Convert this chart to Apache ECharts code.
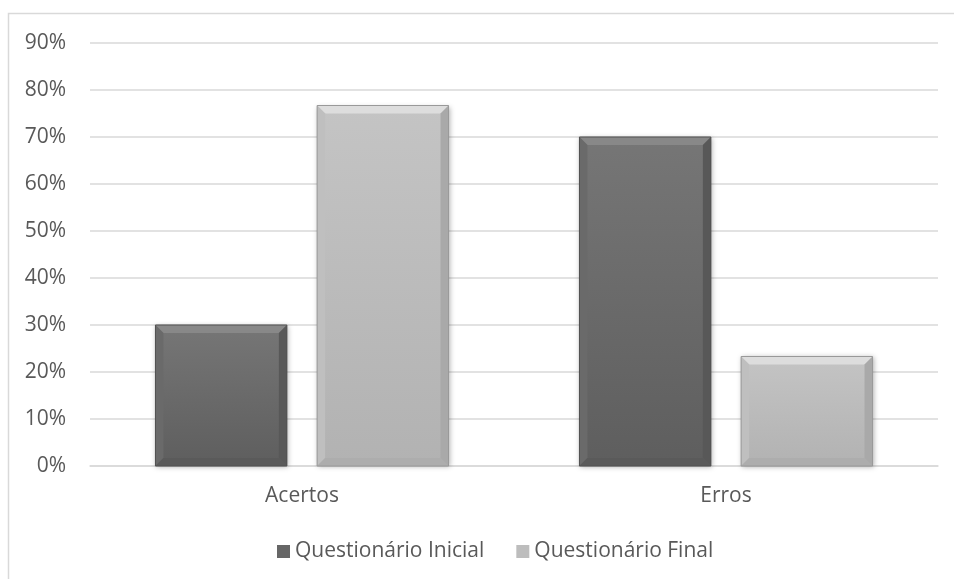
<!DOCTYPE html>
<html>
<head>
<meta charset="utf-8">
<script src="https://cdn.jsdelivr.net/npm/echarts@6/dist/echarts.min.js"></script>
<style>
  html, body { margin: 0; padding: 0; background: #fff; }
  #chart { width: 954px; height: 579px; }
</style>
</head>
<body>
<div id="chart"></div>
<script>
// chart data
var categories = ['Acertos', 'Erros'];
var seriesNames = ['Questionário Inicial', 'Questionário Final'];
var inicial = [30, 70];
var final = [76.7, 23.3];
var yTicks = [0, 10, 20, 30, 40, 50, 60, 70, 80, 90];

var chart = echarts.init(document.getElementById('chart'));

var BAR_W = 0.31;   // share of the category band
var GAP = 0.23;     // gap between the two bars, share of bar width
var BEVEL = 8;

// draws a bevelled bar, like the office "bevel" effect
function bevelBar(side, pal) {
  return function (params, api) {
    var idx = api.value(0);
    var band = api.size([1, 0])[0];
    var w = band * BAR_W;
    var off = (w + w * GAP) / 2 * side;
    var top = api.coord([idx, api.value(1)]);
    var base = api.coord([idx, 0]);
    var x0 = top[0] + off - w / 2, x1 = x0 + w;
    var y0 = top[1], y1 = base[1];
    var b = Math.min(BEVEL, (y1 - y0) / 2);
    return {
      type: 'group',
      children: [{
        type: 'rect',
        shape: { x: x0, y: y0, width: w, height: y1 - y0 },
        style: {
          fill: new echarts.graphic.LinearGradient(0, 0, 0, 1, [
            { offset: 0, color: pal.faceTop },
            { offset: 1, color: pal.faceBot }
          ]),
          shadowColor: 'rgba(0,0,0,0.3)',
          shadowBlur: 5,
          shadowOffsetX: 1,
          shadowOffsetY: 1
        }
      }, {
        type: 'polygon',
        shape: { points: [[x0, y0], [x1, y0], [x1 - b, y0 + b], [x0 + b, y0 + b]] },
        style: { fill: pal.top }
      }, {
        type: 'polygon',
        shape: { points: [[x0, y0], [x0 + b, y0 + b], [x0 + b, y1 - b], [x0, y1]] },
        style: { fill: pal.left }
      }, {
        type: 'polygon',
        shape: { points: [[x1, y0], [x1, y1], [x1 - b, y1 - b], [x1 - b, y0 + b]] },
        style: { fill: pal.right }
      }, {
        type: 'polygon',
        shape: { points: [[x0, y1], [x0 + b, y1 - b], [x1 - b, y1 - b], [x1, y1]] },
        style: { fill: pal.bottom }
      }, {
        type: 'rect',
        shape: { x: x0, y: y0, width: w, height: y1 - y0 },
        style: { fill: 'none', stroke: pal.edge, lineWidth: 1 }
      }]
    };
  };
}

var darkPal = { faceTop: '#767676', faceBot: '#5e5e5e', top: '#888888', left: '#6a6a6a', right: '#585858', bottom: '#5a5a5a', edge: '#505050' };
var lightPal = { faceTop: '#c4c4c4', faceBot: '#b2b2b2', top: '#dddddd', left: '#bfbfbf', right: '#a9a9a9', bottom: '#adadad', edge: '#999999' };

function toPairs(arr) {
  return arr.map(function (v, i) { return [i, v]; });
}

chart.setOption({
  animation: false,
  textStyle: { fontFamily: 'Open Sans', color: '#595959' },
  graphic: [{
    type: 'rect',
    shape: { x: 8.5, y: 13.5, width: 960, height: 600 },
    style: { fill: 'none', stroke: '#d9d9d9', lineWidth: 1.5 },
    silent: true
  }],
  grid: { left: 90, right: 16, top: 43, bottom: 113 },
  legend: {
    bottom: 12,
    left: 272,
    itemWidth: 13,
    itemHeight: 13,
    itemGap: 32,
    icon: 'rect',
    textStyle: { fontSize: 21, color: '#595959', fontFamily: 'Open Sans' },
    data: seriesNames
  },
  xAxis: {
    type: 'category',
    data: categories,
    axisLine: { lineStyle: { color: '#d9d9d9', width: 1.5 } },
    axisTick: { show: false },
    axisLabel: { fontSize: 21, color: '#595959', margin: 20 }
  },
  yAxis: {
    type: 'value',
    min: yTicks[0],
    max: yTicks[yTicks.length - 1],
    interval: 10,
    axisLine: { show: false },
    axisTick: { show: false },
    splitLine: { lineStyle: { color: '#d9d9d9', width: 1.5 } },
    axisLabel: { fontSize: 21, color: '#595959', margin: 24, formatter: '{value}%' }
  },
  series: [{
    name: seriesNames[0],
    type: 'custom',
    renderItem: bevelBar(-1, darkPal),
    encode: { x: 0, y: 1 },
    itemStyle: { color: '#666666' },
    data: toPairs(inicial)
  }, {
    name: seriesNames[1],
    type: 'custom',
    renderItem: bevelBar(1, lightPal),
    encode: { x: 0, y: 1 },
    itemStyle: { color: '#bdbdbd' },
    data: toPairs(final)
  }]
});
</script>
</body>
</html>
